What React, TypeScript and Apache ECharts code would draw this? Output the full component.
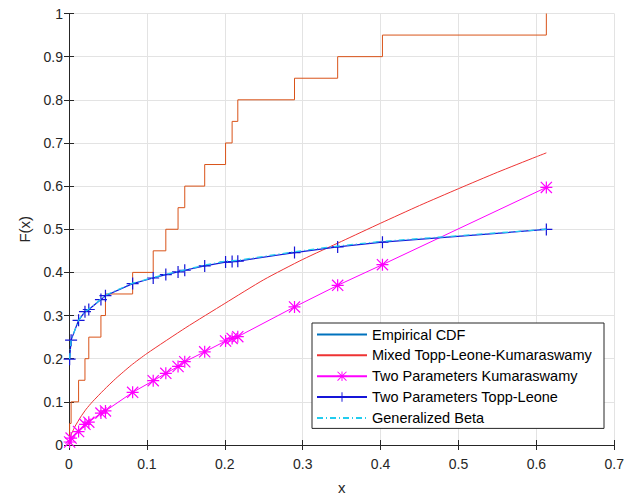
import React, { useEffect, useRef } from "react";
import * as echarts from "echarts";

// Sample (sorted observations) read from the empirical CDF jumps
const sampleX = [0.0008, 0.0027, 0.0123, 0.0205, 0.0254, 0.041, 0.0468, 0.0817, 0.1081, 0.1243, 0.14, 0.1486, 0.1742, 0.201, 0.2094, 0.2167, 0.2895, 0.3449, 0.4024, 0.6128];
const ecdfValues = [0.05, 0.1, 0.15, 0.2, 0.25, 0.3, 0.35, 0.4, 0.45, 0.5, 0.55, 0.6, 0.65, 0.7, 0.75, 0.8, 0.85, 0.9, 0.95, 1.0];

// Fitted CDFs at the sample points
const kumaraswamy = [0.007, 0.016, 0.031, 0.048, 0.053, 0.074, 0.079, 0.122, 0.149, 0.166, 0.182, 0.193, 0.216, 0.241, 0.247, 0.251, 0.32, 0.37, 0.418, 0.597];
const toppLeone = [0.199, 0.243, 0.289, 0.309, 0.314, 0.337, 0.346, 0.374, 0.387, 0.395, 0.401, 0.405, 0.415, 0.424, 0.425, 0.426, 0.446, 0.459, 0.47, 0.4995];
const genBeta = [0.199, 0.243, 0.289, 0.309, 0.315, 0.338, 0.347, 0.375, 0.388, 0.396, 0.402, 0.406, 0.417, 0.426, 0.427, 0.428, 0.448, 0.461, 0.472, 0.5];

// Mixed Topp-Leone-Kumaraswamy curve (smooth, read at its own grid)
const mixX = [0, 0.001, 0.0025, 0.005, 0.008, 0.015, 0.022, 0.03, 0.045, 0.06, 0.08, 0.1, 0.15, 0.2, 0.25, 0.3, 0.35, 0.4, 0.45, 0.5, 0.55, 0.6, 0.6128];
const mixF = [0, 0.014, 0.023, 0.033, 0.044, 0.065, 0.083, 0.1, 0.128, 0.154, 0.185, 0.212, 0.272, 0.328, 0.383, 0.43, 0.472, 0.514, 0.555, 0.594, 0.632, 0.668, 0.677];

const xTicks = ["0", "0.1", "0.2", "0.3", "0.4", "0.5", "0.6", "0.7"];
const yTicks = ["0", "0.1", "0.2", "0.3", "0.4", "0.5", "0.6", "0.7", "0.8", "0.9", "1"];

const PLUS = "path://M4.5,0 L5.5,0 L5.5,4.5 L10,4.5 L10,5.5 L5.5,5.5 L5.5,10 L4.5,10 L4.5,5.5 L0,5.5 L0,4.5 L4.5,4.5 Z";
const STAR =
  "path://M4.5,0 L5.5,0 L5.5,10 L4.5,10 Z M0,4.5 L10,4.5 L10,5.5 L0,5.5 Z M0,0.7 L0.7,0 L10,9.3 L9.3,10 Z M9.3,0 L10,0.7 L0.7,10 L0,9.3 Z";

const FONT = "'Liberation Sans', Arial, Helvetica, sans-serif";
const AXIS_COLOR = "#262626";

export default function App() {
  const ref = useRef<HTMLDivElement>(null);

  useEffect(() => {
    if (!ref.current) return;
    const chart = echarts.init(ref.current, undefined, { renderer: "svg" });

    // Stair polyline of the ECDF built from the sample and its values
    const stairs: number[][] = [[sampleX[0], 0]];
    sampleX.forEach((x, i) => {
      const prev = i === 0 ? 0 : ecdfValues[i - 1];
      stairs.push([x, prev]);
      stairs.push([x, ecdfValues[i]]);
    });

    const pairs = (xs: number[], ys: number[]) => xs.map((x, i) => [x, ys[i]]);

    const hiddenAxis = {
      min: 0,
      axisLine: { show: true, lineStyle: { color: AXIS_COLOR, width: 1 } },
      axisTick: { show: true, inside: true, length: 5, lineStyle: { color: AXIS_COLOR } },
      axisLabel: { show: false },
      splitLine: { show: false },
    };

    chart.setOption({
      animation: false,
      backgroundColor: "#ffffff",
      grid: { left: 69, right: 11, top: 13.5, bottom: 53.5 },
      legend: {
        orient: "vertical",
        left: 312,
        top: 323,
        padding: [4, 12, 3, 4],
        itemWidth: 50,
        itemHeight: 12,
        itemGap: 5.85,
        borderColor: AXIS_COLOR,
        borderWidth: 1,
        backgroundColor: "#ffffff",
        textStyle: { fontFamily: FONT, fontSize: 14.5, color: "#000", lineHeight: 15 },
        data: [
          {
            name: "Empirical CDF",
            itemStyle: { color: "#0072BD", opacity: 0 },
            lineStyle: { color: "#0072BD" },
          },
          { name: "Mixed Topp-Leone-Kumaraswamy", itemStyle: { opacity: 0 } },
          { name: "Two Parameters Kumaraswamy" },
          { name: "Two Parameters Topp-Leone" },
          { name: "Generalized Beta", itemStyle: { opacity: 0 } },
        ],
      },
      xAxis: [
        {
          type: "value",
          min: 0,
          max: 0.7,
          interval: 0.1,
          name: "x",
          nameLocation: "middle",
          nameGap: 35,
          nameTextStyle: { fontFamily: FONT, fontSize: 15, color: AXIS_COLOR },
          axisLine: { show: true, onZero: false, lineStyle: { color: AXIS_COLOR, width: 1 } },
          axisTick: { show: true, inside: true, length: 5, lineStyle: { color: AXIS_COLOR } },
          axisLabel: {
            margin: 12,
            fontFamily: FONT,
            fontSize: 14,
            color: AXIS_COLOR,
            formatter: (v: number) => xTicks[Math.round(v * 10)] ?? "",
          },
          splitLine: { show: true, lineStyle: { color: "#e3e3e3", width: 1 } },
        },
        { type: "value", position: "top", max: 0.7, interval: 0.1, ...hiddenAxis },
      ],
      yAxis: [
        {
          type: "value",
          min: 0,
          max: 1,
          interval: 0.1,
          name: "F(x)",
          nameLocation: "middle",
          nameGap: 37,
          nameTextStyle: { fontFamily: FONT, fontSize: 15, color: AXIS_COLOR },
          axisLine: { show: true, onZero: false, lineStyle: { color: AXIS_COLOR, width: 1 } },
          axisTick: { show: true, inside: true, length: 5, lineStyle: { color: AXIS_COLOR } },
          axisLabel: {
            margin: 6,
            fontFamily: FONT,
            fontSize: 14,
            color: AXIS_COLOR,
            formatter: (v: number) => yTicks[Math.round(v * 10)] ?? "",
          },
          splitLine: { show: true, lineStyle: { color: "#e3e3e3", width: 1 } },
        },
        { type: "value", position: "right", max: 1, interval: 0.1, ...hiddenAxis },
      ],
      series: [
        {
          name: "Empirical CDF",
          type: "line",
          data: stairs,
          symbol: "none",
          lineStyle: { color: "#D95319", width: 1 },
          itemStyle: { color: "#D95319" },
          z: 2,
        },
        {
          name: "Mixed Topp-Leone-Kumaraswamy",
          type: "line",
          data: pairs(mixX, mixF),
          symbol: "none",
          smooth: 0.2,
          lineStyle: { color: "#EE3333", width: 1 },
          itemStyle: { color: "#EE3333" },
          z: 3,
        },
        {
          name: "Two Parameters Kumaraswamy",
          type: "line",
          data: pairs(sampleX, kumaraswamy),
          symbol: STAR,
          symbolSize: 12,
          showSymbol: true,
          lineStyle: { color: "#FF00FF", width: 1 },
          itemStyle: { color: "#FF00FF" },
          z: 4,
        },
        {
          name: "Two Parameters Topp-Leone",
          type: "line",
          data: pairs(sampleX, toppLeone),
          symbol: PLUS,
          symbolSize: 12,
          showSymbol: true,
          lineStyle: { color: "#1515D8", width: 1.2 },
          itemStyle: { color: "#1515D8" },
          z: 5,
        },
        {
          name: "Generalized Beta",
          type: "line",
          data: pairs(sampleX, genBeta),
          symbol: "none",
          lineStyle: { color: "#22CCEE", width: 1.3, type: [6, 3, 1, 3] },
          itemStyle: { color: "#22CCEE" },
          z: 6,
        },
      ],
    });

    return () => chart.dispose();
  }, []);

  return (
    <div
      ref={ref}
      style={{ position: "fixed", left: 0, top: 0, width: 627, height: 500, background: "#fff" }}
    />
  );
}
